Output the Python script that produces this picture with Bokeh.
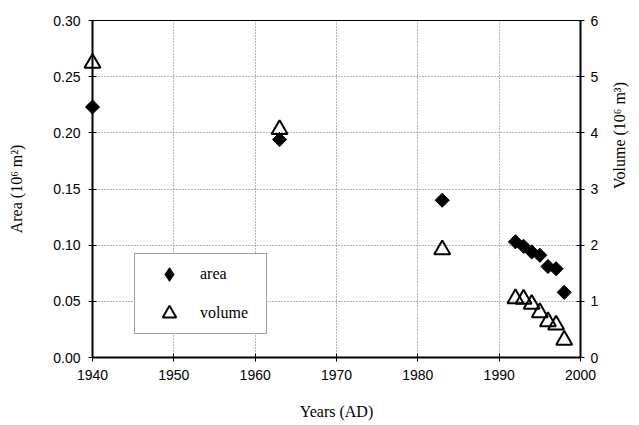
import math
from bokeh.plotting import figure
from bokeh.models import (Range1d, LinearAxis, FixedTicker, PrintfTickFormatter,
                          Legend, LegendItem)
from bokeh.embed import file_html
from bokeh.resources import INLINE

# ---- data ----
area_years = [1940, 1963, 1983, 1992, 1993, 1994, 1995, 1996, 1997, 1998]
area_values = [0.223, 0.194, 0.140, 0.103, 0.099, 0.094, 0.091, 0.081, 0.079, 0.058]
volume_years = [1940, 1963, 1983, 1992, 1993, 1994, 1995, 1996, 1997, 1998]
volume_values = [5.24, 4.06, 1.92, 1.05, 1.04, 0.95, 0.80, 0.64, 0.58, 0.31]

x_ticks = [1940, 1950, 1960, 1970, 1980, 1990, 2000]
area_ticks = [0.00, 0.05, 0.10, 0.15, 0.20, 0.25, 0.30]
volume_ticks = [0, 1, 2, 3, 4, 5, 6]

x_label = "Years (AD)"
area_label = "Area (10\u2076 m\u00b2)"
volume_label = "Volume (10\u2076 m\u00b3)"
legend_labels = ["area", "volume"]

TICK_FONT = "Liberation Sans"
LABEL_FONT = "Liberation Serif"

p = figure(width=639, height=425, output_backend="svg", toolbar_location=None,
           x_range=Range1d(1940, 2000), y_range=Range1d(0, 0.30),
           min_border_left=92, min_border_right=56, min_border_top=20,
           min_border_bottom=68, x_axis_location=None, y_axis_location=None)
p.extra_y_ranges = {"vol": Range1d(0, 6)}

p.outline_line_color = "black"
p.outline_line_width = 1
p.background_fill_color = "white"
p.border_fill_color = "white"


def style_axis(ax, standoff, label_standoff):
    ax.axis_line_color = "black"
    ax.axis_line_width = 2
    ax.major_tick_line_color = "black"
    ax.major_tick_line_width = 1
    ax.major_tick_in = 4
    ax.major_tick_out = 4
    ax.minor_tick_line_color = None
    ax.major_label_text_font = TICK_FONT
    ax.major_label_text_font_size = "14px"
    ax.major_label_text_color = "black"
    ax.major_label_standoff = standoff
    ax.axis_label_text_font = LABEL_FONT
    ax.axis_label_text_font_size = "16px"
    ax.axis_label_text_font_style = "normal"
    ax.axis_label_text_color = "black"
    ax.axis_label_standoff = label_standoff


xaxis = LinearAxis(axis_label=x_label, ticker=FixedTicker(ticks=x_ticks))
style_axis(xaxis, 8, 20)
p.add_layout(xaxis, "below")

yaxis = LinearAxis(axis_label=area_label, ticker=FixedTicker(ticks=area_ticks),
                   formatter=PrintfTickFormatter(format="%.2f"))
style_axis(yaxis, 8, 25)
p.add_layout(yaxis, "left")

y2axis = LinearAxis(axis_label=volume_label, y_range_name="vol",
                    ticker=FixedTicker(ticks=volume_ticks))
style_axis(y2axis, 6, 18)
y2axis.axis_label_orientation = math.pi / 2
p.add_layout(y2axis, "right")

for g, ticks in ((p.xgrid, x_ticks), (p.ygrid, area_ticks)):
    g.ticker = FixedTicker(ticks=ticks)
    g.grid_line_color = "#6e6e6e"
    g.grid_line_dash = "1 2"
    g.grid_line_width = 1

r_vol = p.scatter(volume_years, volume_values, marker="triangle", size=16,
                  fill_color=None, line_color="black", line_width=2,
                  y_range_name="vol", level="overlay")
r_area = p.scatter(area_years, area_values, marker="square", angle=math.pi / 4,
                   size=10, fill_color="black", line_color="black",
                   level="overlay")

# hidden copy of the area series, used only for its diamond legend swatch
r_area_key = p.scatter(area_years, area_values, marker="diamond",
                       fill_color="black", line_color="black", visible=False)

legend = Legend(items=[LegendItem(label=legend_labels[0], renderers=[r_area_key]),
                       LegendItem(label=legend_labels[1], renderers=[r_vol])],
                location=(42, 23), orientation="vertical")
legend.padding = 3
legend.spacing = 5
legend.margin = 0
legend.glyph_height = 34
legend.glyph_width = 62
legend.label_height = 34
legend.label_width = 63
legend.label_standoff = 0
legend.label_text_font = LABEL_FONT
legend.label_text_font_size = "16px"
legend.label_text_color = "black"
legend.border_line_color = "#444444"
legend.border_line_width = 1
legend.background_fill_color = "white"
legend.background_fill_alpha = 1.0
p.add_layout(legend)

open("out.html", "w").write(file_html(p, INLINE))
